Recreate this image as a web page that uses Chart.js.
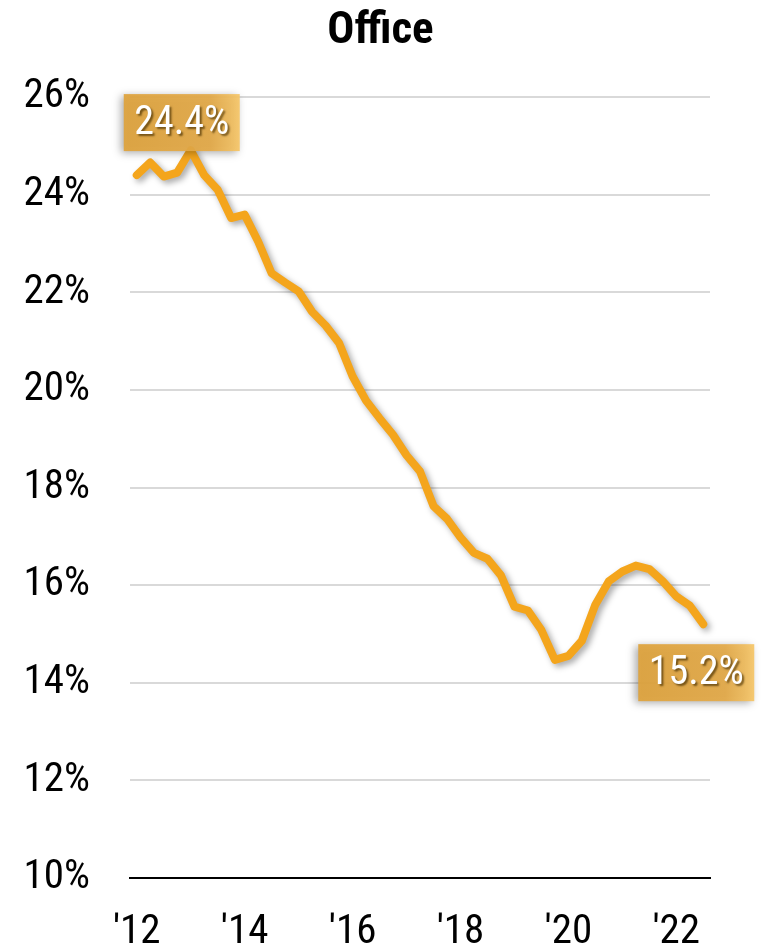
<!DOCTYPE html>
<html>
<head>
<meta charset="utf-8">
<script src="https://cdn.jsdelivr.net/npm/chart.js@4.4.0/dist/chart.umd.min.js"></script>
<style>
html, body { margin: 0; padding: 0; background: #fff; }
</style>
</head>
<body>
<canvas id="chart" width="761" height="949"></canvas>
<script>
// quarterly office vacancy, 2012Q1 .. 2022Q3
var quarters = [
  '2012Q1','2012Q2','2012Q3','2012Q4','2013Q1','2013Q2','2013Q3','2013Q4',
  '2014Q1','2014Q2','2014Q3','2014Q4','2015Q1','2015Q2','2015Q3','2015Q4',
  '2016Q1','2016Q2','2016Q3','2016Q4','2017Q1','2017Q2','2017Q3','2017Q4',
  '2018Q1','2018Q2','2018Q3','2018Q4','2019Q1','2019Q2','2019Q3','2019Q4',
  '2020Q1','2020Q2','2020Q3','2020Q4','2021Q1','2021Q2','2021Q3','2021Q4',
  '2022Q1','2022Q2','2022Q3'
];
var vacancy = [
  24.4, 24.66, 24.37, 24.45, 24.91, 24.40, 24.10, 23.52,
  23.59, 23.04, 22.39, 22.20, 22.02, 21.60, 21.32, 20.96,
  20.28, 19.78, 19.42, 19.08, 18.66, 18.33, 17.62, 17.36,
  16.98, 16.66, 16.54, 16.20, 15.56, 15.48, 15.08, 14.47,
  14.55, 14.86, 15.60, 16.08, 16.28, 16.40, 16.33, 16.08,
  15.77, 15.58, 15.2
];
var yearTicks = ["'12", "'14", "'16", "'18", "'20", "'22"];

var fontFamily = "'Roboto Condensed', 'Liberation Sans Narrow', 'Arial Narrow', sans-serif";

function drawBox(ctx, x, y, v) {
  var w = 116, h = 57;
  ctx.save();
  ctx.shadowColor = 'rgba(0,0,0,0.35)';
  ctx.shadowBlur = 8;
  ctx.shadowOffsetX = -3;
  ctx.shadowOffsetY = 2;
  var g = ctx.createLinearGradient(x, 0, x + w, 0);
  g.addColorStop(0, 'rgba(223,163,60,0.93)');
  g.addColorStop(0.75, 'rgba(228,170,72,0.93)');
  g.addColorStop(1, 'rgba(246,198,104,0.93)');
  ctx.fillStyle = g;
  ctx.fillRect(x, y, w, h);
  ctx.restore();

  ctx.save();
  ctx.font = '40px ' + fontFamily;
  ctx.fillStyle = '#fff';
  ctx.textAlign = 'center';
  ctx.textBaseline = 'middle';
  ctx.shadowColor = 'rgba(70,45,0,0.7)';
  ctx.shadowBlur = 2;
  ctx.shadowOffsetX = 2;
  ctx.shadowOffsetY = 2;
  ctx.fillText(v.toFixed(1) + '%', x + w / 2, y + h / 2 + 1);
  ctx.restore();
}

var lineShadow = {
  id: 'lineShadow',
  beforeDatasetsDraw: function(chart) {
    var ctx = chart.ctx;
    ctx.save();
    ctx.shadowColor = 'rgba(0,0,0,0.35)';
    ctx.shadowBlur = 6;
    ctx.shadowOffsetX = 3;
    ctx.shadowOffsetY = 3;
  },
  afterDatasetsDraw: function(chart) {
    chart.ctx.restore();
  }
};

var endLabels = {
  id: 'endLabels',
  afterDraw: function(chart) {
    var pts = chart.getDatasetMeta(0).data;
    var first = pts[0], last = pts[pts.length - 1];
    drawBox(chart.ctx, first.x - 13, first.y - 81, vacancy[0]);
    drawBox(chart.ctx, last.x - 65, last.y + 20, vacancy[vacancy.length - 1]);
  }
};

var ctx = document.getElementById('chart').getContext('2d');
var chart = new Chart(ctx, {
  type: 'line',
  data: {
    labels: quarters,
    datasets: [{
      data: vacancy,
      borderColor: '#F4A51C',
      borderWidth: 8,
      pointRadius: 0,
      tension: 0,
      clip: false,
      borderCapStyle: 'round',
      borderJoinStyle: 'round'
    }]
  },
  options: {
    responsive: false,
    animation: false,
    devicePixelRatio: 1,
    layout: { padding: 0 },
    plugins: {
      legend: { display: false },
      tooltip: { enabled: false },
      title: {
        display: true,
        text: 'Office',
        color: '#000',
        font: { family: fontFamily, size: 45, weight: 'bold' },
        padding: { top: 5, bottom: 38 }
      }
    },
    scales: {
      x: {
        offset: true,
        afterFit: function(scale) { scale.height = 71; },
        grid: { display: false, drawTicks: false },
        border: { display: true, color: '#000', width: 2 },
        ticks: {
          autoSkip: false,
          maxRotation: 0,
          padding: 30,
          color: '#000',
          font: { family: fontFamily, size: 41 },
          callback: function(val, i) {
            return i % 8 === 0 ? yearTicks[i / 8] : '';
          }
        }
      },
      y: {
        min: 10,
        max: 26,
        afterFit: function(scale) { scale.width = 130; },
        border: { display: false },
        grid: {
          drawTicks: false,
          lineWidth: 2,
          color: function(c) { return c.tick && c.tick.value === 10 ? 'rgba(0,0,0,0)' : '#d9d9d9'; }
        },
        ticks: {
          stepSize: 2,
          padding: 40,
          color: '#000',
          font: { family: fontFamily, size: 41 },
          callback: function(v) { return v + '%'; }
        }
      },
      // empty right-hand axis keeps the right margin so the title stays centred on the page
      yRight: {
        position: 'right',
        min: 10,
        max: 26,
        afterFit: function(scale) { scale.width = 51; },
        border: { display: false },
        grid: { display: false, drawTicks: false },
        ticks: { display: false }
      }
    }
  },
  plugins: [lineShadow, endLabels]
});
</script>
</body>
</html>
